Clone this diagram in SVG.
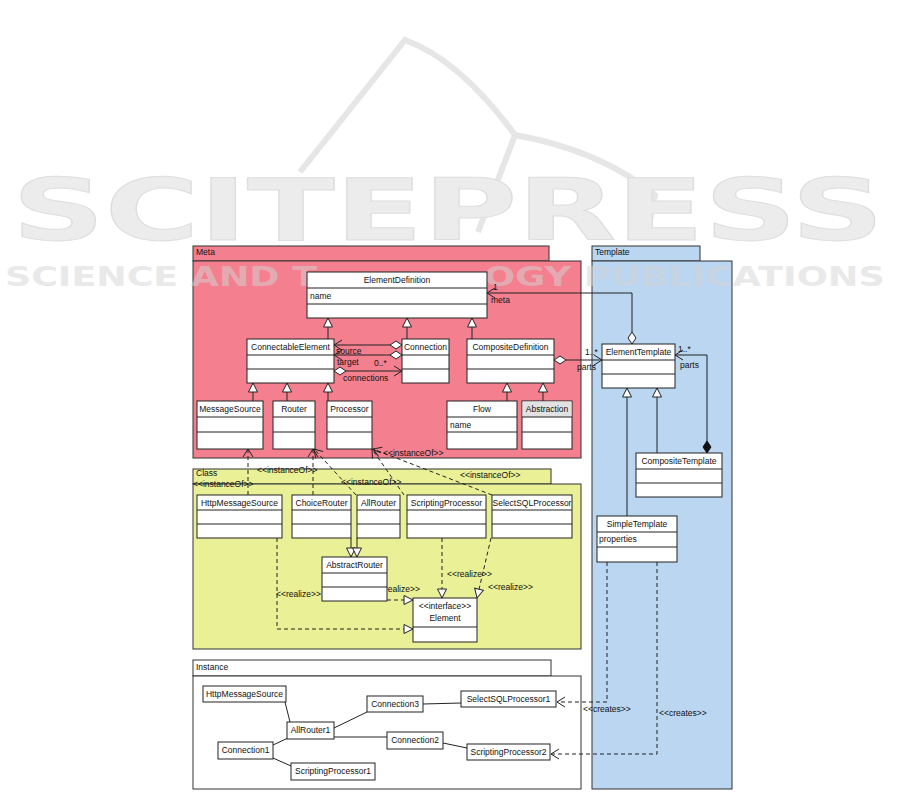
<svg xmlns="http://www.w3.org/2000/svg" width="901" height="796" viewBox="0 0 901 796">
<style>
text{font-family:"Liberation Sans",Arial,sans-serif;font-size:8.5px;fill:#111}
.c{text-anchor:middle}
.pkg{stroke:#333;stroke-width:1}
.box{fill:#fff;stroke:#222;stroke-width:1}
.sep{stroke:#222;stroke-width:1}
.ln{fill:none;stroke:#222;stroke-width:1}
.d{stroke-dasharray:4,3}
text.wm1{font-family:"DejaVu Sans",sans-serif;font-weight:bold;font-size:86px;fill:#ececec;stroke:#dedede;stroke-width:1}
text.wm2{font-family:"DejaVu Sans",sans-serif;font-weight:bold;font-size:26px;fill:#d4d4d4}
</style>
<defs>
<marker id="open" markerUnits="userSpaceOnUse" markerWidth="10" markerHeight="10" refX="8" refY="5" orient="auto" overflow="visible"><path d="M0,0 L8,5 L0,10" fill="none" stroke="#222" stroke-width="1"/></marker>
<marker id="tri" markerUnits="userSpaceOnUse" markerWidth="10" markerHeight="10" refX="9" refY="4.5" orient="auto" overflow="visible"><path d="M0,0 L9,4.5 L0,9 Z" fill="#fff" stroke="#222" stroke-width="1"/></marker>
<marker id="dia" markerUnits="userSpaceOnUse" markerWidth="13" markerHeight="9" refX="0" refY="4" orient="auto" overflow="visible"><path d="M0,4 L6,0 L12,4 L6,8 Z" fill="#fff" stroke="#222" stroke-width="1"/></marker>
<marker id="fdia" markerUnits="userSpaceOnUse" markerWidth="13" markerHeight="9" refX="0" refY="4" orient="auto" overflow="visible"><path d="M0,4 L6,0 L12,4 L6,8 Z" fill="#111" stroke="#111" stroke-width="1"/></marker>
</defs>
<rect width="901" height="796" fill="#fff"/>

<!-- watermark top -->
<g id="watermark-top">
<path d="M300,172 L405,40 Q460,60 515,135 Q600,150 655,195 L648,230 M515,135 L478,232" fill="none" stroke="#e6e6e6" stroke-width="6"/>
<text class="wm1" x="12" y="240" textLength="872" lengthAdjust="spacingAndGlyphs">SCITEPRESS</text>
</g>

<!-- packages -->
<g id="pkg-meta">
<rect class="pkg" x="193" y="246" width="356" height="15" fill="#f4808f"/>
<rect class="pkg" x="193" y="261" width="388" height="197" fill="#f4808f"/>
<text x="196" y="255">Meta</text>
</g>
<g id="pkg-template">
<rect class="pkg" x="592" y="246" width="108" height="15" fill="#bad6f1"/>
<rect class="pkg" x="592" y="261" width="140" height="528" fill="#bad6f1"/>
<text x="595" y="255">Template</text>
</g>
<g id="pkg-class">
<rect class="pkg" x="193" y="469" width="358" height="15" fill="#e9f096"/>
<rect class="pkg" x="193" y="484" width="388" height="165" fill="#e9f096"/>
<text x="196" y="476">Class</text>
</g>
<g id="pkg-instance">
<rect class="pkg" x="193" y="660" width="358" height="16" fill="#fff"/>
<rect class="pkg" x="193" y="676" width="388" height="113" fill="#fff"/>
<text x="196" y="670">Instance</text>
</g>

<!-- watermark lower text (middle part lies hidden behind ElementDefinition) -->
<g id="watermark-bottom" opacity="0.5">
<text class="wm2" x="5" y="286" textLength="312" lengthAdjust="spacingAndGlyphs">SCIENCE AND T</text>
<text class="wm2" x="484" y="286" textLength="401" lengthAdjust="spacingAndGlyphs">OGY PUBLICATIONS</text>
</g>

<!-- connectors -->
<g id="connectors">
<g class="gen">
<path class="ln" d="M328,339 V318" marker-end="url(#tri)"/>
<path class="ln" d="M407,339 V318" marker-end="url(#tri)"/>
<path class="ln" d="M472,339 V318" marker-end="url(#tri)"/>
<path class="ln" d="M253,401 V383" marker-end="url(#tri)"/>
<path class="ln" d="M287,401 V383" marker-end="url(#tri)"/>
<path class="ln" d="M328,401 V383" marker-end="url(#tri)"/>
<path class="ln" d="M507,401 V383" marker-end="url(#tri)"/>
<path class="ln" d="M543,401 V383" marker-end="url(#tri)"/>
<path class="ln" d="M657,453 V388" marker-end="url(#tri)"/>
<path class="ln" d="M627,516 V388" marker-end="url(#tri)"/>
<path class="ln" d="M351,538 V557" marker-end="url(#tri)"/>
<path class="ln" d="M357,538 V557" marker-end="url(#tri)"/>
</g>
<g class="assoc">
<path class="ln" d="M402,345 H334" marker-start="url(#dia)" marker-end="url(#open)"/>
<path class="ln" d="M402,355 H334" marker-start="url(#dia)" marker-end="url(#open)"/>
<path class="ln" d="M334,371 H402" marker-start="url(#dia)" marker-end="url(#open)"/>
<path class="ln" d="M554,360 H602" marker-start="url(#dia)" marker-end="url(#open)"/>
<path class="ln" d="M632,344 V293 H487" marker-start="url(#dia)" marker-end="url(#open)"/>
<path class="ln" d="M707,453 V355 H675" marker-start="url(#fdia)" marker-end="url(#open)"/>
<text x="336" y="354">source</text>
<text x="337" y="365">target</text>
<text x="374" y="366">0..*</text>
<text x="343" y="381">connections</text>
<text x="493" y="290">1</text>
<text x="491" y="303">meta</text>
<text x="585" y="355">1..*</text>
<text x="577" y="370">parts</text>
<text x="678" y="352">1..*</text>
<text x="680" y="368">parts</text>
</g>
<g class="realize">
<path class="ln d" d="M387,600 H413" marker-end="url(#tri)"/>
<path class="ln d" d="M277,538 V629 H413" marker-end="url(#tri)"/>
<path class="ln d" d="M442,538 V598" marker-end="url(#tri)"/>
<path class="ln d" d="M491,538 L477,598" marker-end="url(#tri)"/>
<text x="375" y="592">&lt;&lt;realize&gt;&gt;</text>
<text x="276" y="597">&lt;&lt;realize&gt;&gt;</text>
<text x="447" y="577">&lt;&lt;realize&gt;&gt;</text>
<text x="488" y="590">&lt;&lt;realize&gt;&gt;</text>
</g>
<g class="instanceof">
<path class="ln d" d="M248,495 V449" marker-end="url(#open)"/>
<path class="ln d" d="M313,495 V449" marker-end="url(#open)"/>
<path class="ln d" d="M356,495 L314,449" marker-end="url(#open)"/>
<path class="ln d" d="M404,495 L372,449" marker-end="url(#open)"/>
<path class="ln d" d="M492,495 L373,449" marker-end="url(#open)"/>
<text x="383" y="456">&lt;&lt;instanceOf&gt;&gt;</text>
<text x="257" y="473">&lt;&lt;instanceOf&gt;&gt;</text>
<text x="460" y="478">&lt;&lt;instanceOf&gt;&gt;</text>
<text x="341" y="485">&lt;&lt;instanceOf&gt;&gt;</text>
<text x="193" y="487">&lt;&lt;instanceOf&gt;&gt;</text>
</g>
<g class="creates">
<path class="ln d" d="M607,562 V702 H557" marker-end="url(#open)"/>
<path class="ln d" d="M657,562 V754 H551" marker-end="url(#open)"/>
<text x="583" y="712">&lt;&lt;creates&gt;&gt;</text>
<text x="659" y="716">&lt;&lt;creates&gt;&gt;</text>
</g>
<g class="links">
<path class="ln" d="M285,702 L290,722"/>
<path class="ln" d="M334,728 L367,712"/>
<path class="ln" d="M423,704 L461,703"/>
<path class="ln" d="M334,737 L387,737"/>
<path class="ln" d="M443,743 L467,748"/>
<path class="ln" d="M273,745 L288,738"/>
<path class="ln" d="M273,758 L291,766"/>
</g>
</g>

<!-- Meta classes -->
<g id="ElementDefinition">
<rect class="box" x="307" y="272" width="180" height="46"/>
<path class="sep" d="M307,288 H487 M307,304 H487"/>
<text class="c" x="397" y="283">ElementDefinition</text>
<text x="310" y="299">name</text>
</g>
<g id="ConnectableElement">
<rect class="box" x="247" y="339" width="87" height="44"/>
<path class="sep" d="M247,355 H334 M247,369 H334"/>
<text class="c" x="290.5" y="350">ConnectableElement</text>
</g>
<g id="Connection">
<rect class="box" x="402" y="339" width="47" height="44"/>
<path class="sep" d="M402,355 H449 M402,369 H449"/>
<text class="c" x="425.5" y="350">Connection</text>
</g>
<g id="CompositeDefinition">
<rect class="box" x="467" y="339" width="87" height="44"/>
<path class="sep" d="M467,355 H554 M467,369 H554"/>
<text class="c" x="510.5" y="350">CompositeDefinition</text>
</g>
<g id="MessageSource">
<rect class="box" x="197" y="401" width="66" height="48"/>
<path class="sep" d="M197,417 H263 M197,432 H263"/>
<text class="c" x="230" y="412">MessageSource</text>
</g>
<g id="Router">
<rect class="box" x="273" y="401" width="42" height="48"/>
<path class="sep" d="M273,417 H315 M273,432 H315"/>
<text class="c" x="294" y="412">Router</text>
</g>
<g id="Processor">
<rect class="box" x="327" y="401" width="45" height="48"/>
<path class="sep" d="M327,417 H372 M327,432 H372"/>
<text class="c" x="349.5" y="412">Processor</text>
</g>
<g id="Flow">
<rect class="box" x="447" y="401" width="70" height="48"/>
<path class="sep" d="M447,417 H517 M447,432 H517"/>
<text class="c" x="482" y="412">Flow</text>
<text x="450" y="428">name</text>
</g>
<g id="Abstraction">
<rect class="box" x="522" y="401" width="50" height="48"/>
<rect x="522.5" y="401.5" width="49" height="15.5" fill="#e2e2e2"/>
<path class="sep" d="M522,417 H572 M522,432 H572"/>
<text class="c" x="547" y="412">Abstraction</text>
</g>

<!-- Template classes -->
<g id="ElementTemplate">
<rect class="box" x="602" y="344" width="73" height="44"/>
<path class="sep" d="M602,360 H675 M602,374 H675"/>
<text class="c" x="638.5" y="355">ElementTemplate</text>
</g>
<g id="CompositeTemplate">
<rect class="box" x="636" y="453" width="86" height="44"/>
<path class="sep" d="M636,469 H722 M636,483 H722"/>
<text class="c" x="679" y="464">CompositeTemplate</text>
</g>
<g id="SimpleTemplate">
<rect class="box" x="597" y="516" width="80" height="46"/>
<path class="sep" d="M597,532 H677 M597,547 H677"/>
<text class="c" x="637" y="527">SimpleTemplate</text>
<text x="599" y="542">properties</text>
</g>

<!-- Class classes -->
<g id="HttpMessageSource">
<rect class="box" x="197" y="495" width="85" height="43"/>
<path class="sep" d="M197,510 H282 M197,524 H282"/>
<text class="c" x="239.5" y="506">HttpMessageSource</text>
</g>
<g id="ChoiceRouter">
<rect class="box" x="292" y="495" width="59" height="43"/>
<path class="sep" d="M292,510 H351 M292,524 H351"/>
<text class="c" x="321.5" y="506">ChoiceRouter</text>
</g>
<g id="AllRouter">
<rect class="box" x="357" y="495" width="43" height="43"/>
<path class="sep" d="M357,510 H400 M357,524 H400"/>
<text class="c" x="378.5" y="506">AllRouter</text>
</g>
<g id="ScriptingProcessor">
<rect class="box" x="407" y="495" width="79" height="43"/>
<path class="sep" d="M407,510 H486 M407,524 H486"/>
<text class="c" x="446.5" y="506">ScriptingProcessor</text>
</g>
<g id="SelectSQLProcessor">
<rect class="box" x="492" y="495" width="80" height="43"/>
<path class="sep" d="M492,510 H572 M492,524 H572"/>
<text class="c" x="532" y="506">SelectSQLProcessor</text>
</g>
<g id="AbstractRouter">
<rect class="box" x="322" y="557" width="65" height="44"/>
<path class="sep" d="M322,573 H387 M322,587 H387"/>
<text class="c" x="354.5" y="568">AbstractRouter</text>
</g>
<g id="Element">
<rect class="box" x="413" y="598" width="64" height="44"/>
<path class="sep" d="M413,627 H477"/>
<text class="c" x="445" y="609">&lt;&lt;interface&gt;&gt;</text>
<text class="c" x="445" y="621">Element</text>
</g>

<!-- Instance objects -->
<g id="inst-HttpMessageSource"><rect class="box" x="203" y="686" width="83" height="16"/><text class="c" x="244.5" y="697">HttpMessageSource</text></g>
<g id="inst-Connection3"><rect class="box" x="367" y="696" width="56" height="16"/><text class="c" x="395" y="707">Connection3</text></g>
<g id="inst-SelectSQLProcessor1"><rect class="box" x="461" y="691" width="95" height="16"/><text class="c" x="508.5" y="702">SelectSQLProcessor1</text></g>
<g id="inst-AllRouter1"><rect class="box" x="287" y="722" width="47" height="17"/><text class="c" x="310.5" y="733">AllRouter1</text></g>
<g id="inst-Connection2"><rect class="box" x="387" y="732" width="56" height="17"/><text class="c" x="415" y="743">Connection2</text></g>
<g id="inst-Connection1"><rect class="box" x="218" y="742" width="55" height="17"/><text class="c" x="245.5" y="753">Connection1</text></g>
<g id="inst-ScriptingProcessor2"><rect class="box" x="467" y="744" width="83" height="16"/><text class="c" x="508.5" y="755">ScriptingProcessor2</text></g>
<g id="inst-ScriptingProcessor1"><rect class="box" x="291" y="763" width="84" height="17"/><text class="c" x="333" y="774">ScriptingProcessor1</text></g>
</svg>
